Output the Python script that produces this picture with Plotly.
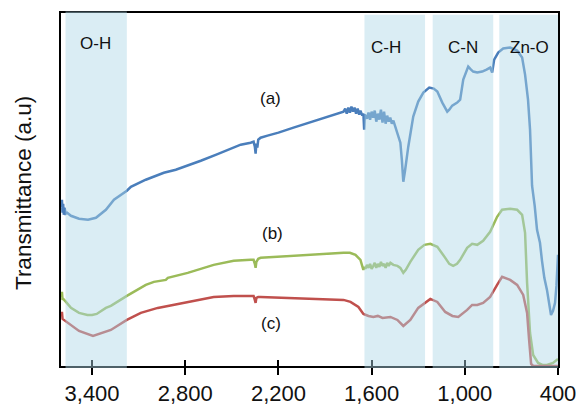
import plotly.graph_objects as go

# ---------------- data ----------------
wn_a = [3598, 3594, 3590, 3586, 3582, 3577, 3570, 3560, 3536, 3484, 3426, 3375, 3311, 3259, 3176,
        3150, 3054, 2938, 2861, 2745, 2700, 2600, 2527, 2443, 2379, 2360, 2352, 2347, 2342, 2336,
        2330, 2315, 2270, 2200, 2103, 2000, 1884, 1830, 1781, 1770, 1760, 1750, 1740, 1730, 1720,
        1710, 1700, 1690, 1680, 1672, 1660, 1653, 1648, 1644, 1630, 1620, 1610, 1600, 1590, 1580,
        1570, 1560, 1550, 1540, 1530, 1520, 1510, 1500, 1490, 1480, 1470, 1460, 1447, 1430, 1415,
        1405, 1396, 1385, 1375, 1364, 1332, 1300, 1267, 1229, 1200, 1177, 1145, 1113, 1100, 1081,
        1049, 1030, 1010, 978, 960, 946, 920, 888, 860, 837, 824, 811, 785, 753, 708,
        663, 631, 612, 593, 580, 567, 550, 535, 516, 503, 488, 471, 458, 445, 432,
        419, 410, 405, 400]
t_a = [158, 166, 153, 162, 151, 158, 152, 153, 150, 147, 146, 148, 156, 166, 175,
       179, 186, 193, 196, 202, 205, 211, 216, 221, 223, 224, 219, 212, 222, 218,
       226, 228, 230, 233, 238, 243, 249, 251, 254, 257, 252, 258, 253, 259, 254,
       258, 252, 257, 251, 255, 250, 252, 236, 251, 247, 253, 246, 254, 248, 255,
       244, 252, 246, 256, 243, 254, 242, 250, 244, 248, 242, 245, 239, 232, 223,
       205, 184, 195, 208, 219, 249, 264, 273, 278, 277, 274, 263, 254, 256, 260,
       263, 266, 286, 299, 296, 294, 293, 294, 296, 298, 293, 306, 313, 317, 318,
       315, 308, 291, 266, 236, 180, 160, 136, 123, 105, 88, 76, 62, 51, 55,
       63, 80, 95, 111]

wn_b = [3598, 3594, 3590, 3586, 3568, 3536, 3484, 3430, 3400, 3370, 3311, 3279, 3176, 3054, 3002,
        2925, 2912, 2861, 2784, 2617, 2488, 2379, 2360, 2352, 2347, 2342, 2330, 2315, 2122, 1910,
        1781, 1740, 1704, 1672, 1660, 1653, 1647, 1640, 1630, 1620, 1610, 1600, 1589, 1580, 1570,
        1560, 1550, 1540, 1530, 1520, 1510, 1500, 1490, 1479, 1460, 1434, 1415, 1396, 1380, 1351,
        1300, 1260, 1222, 1177, 1126, 1100, 1075, 1050, 1030, 985, 953, 920, 882, 837, 792,
        760, 708, 663, 631, 612, 599, 580, 560, 528, 500, 471, 432, 400]
t_b = [68, 74, 66, 67, 64, 58, 53, 51, 51, 52, 58, 60, 70, 81, 84,
       86, 88, 90, 93, 101, 105, 106, 106, 102, 98, 104, 107, 108, 110, 112,
       113, 113, 111, 106, 101, 96, 99, 97, 101, 98, 102, 97, 100, 103, 98,
       102, 99, 104, 100, 102, 98, 103, 100, 103, 101, 100, 98, 93, 96, 104,
       116, 121, 122, 119, 108, 102, 100, 102, 106, 118, 122, 121, 125, 134, 149,
       156, 157, 156, 151, 133, 83, 33, 11, 3, 1, 1, 3, 7]

wn_c = [3598, 3594, 3590, 3555, 3484, 3394, 3279, 3176, 3086, 2977, 2912, 2784, 2617, 2488, 2379,
        2360, 2352, 2347, 2342, 2330, 2315, 2122, 1910, 1781, 1736, 1700, 1685, 1653, 1620, 1589,
        1560, 1530, 1500, 1479, 1434, 1396, 1351, 1300, 1222, 1177, 1126, 1080, 1042, 985, 953,
        920, 882, 837, 792, 760, 708, 663, 624, 612, 599, 586, 573, 560, 516, 400]
t_c = [50, 54, 47, 43, 35, 30, 36, 46, 53, 58, 60, 64, 69, 70, 70,
       70, 66, 63, 68, 69, 69, 68, 67, 66, 64, 61, 59, 52, 50, 49,
       50, 48, 49, 49, 46, 40, 46, 58, 67, 64, 54, 50, 49, 56, 61,
       61, 63, 69, 81, 89, 86, 81, 71, 63, 53, 26, 2, 0, 0, 0]

tick_vals = [3400, 2800, 2200, 1600, 1000, 400]
tick_text = ["3,400", "2,800", "2,200", "1,600", "1,000", "400"]

bands = [("O-H", 3571, 3176, 3375, 0.945, 1.004),
         ("C-H", 1646, 1256, 1505, 0.935, 0.995),
         ("C-N", 1207, 817, 1010, 0.935, 0.995),
         ("Zn-O", 778, 400, 586, 0.935, 0.995)]

series_labels = [("(a)", 2251, 267), ("(b)", 2240, 132), ("(c)", 2251, 42)]

# ---------------- figure ----------------
FONT = "Liberation Sans, Arial, sans-serif"
fig = go.Figure()
for wn, t, col in [(wn_a, t_a, "#4A7EBB"), (wn_b, t_b, "#9BBB59"), (wn_c, t_c, "#C0504D")]:
    fig.add_trace(go.Scatter(x=wn, y=t, mode="lines", line=dict(color=col, width=2.5),
                             showlegend=False, hoverinfo="skip"))

for name, x0, x1, xl, yl, ytop in bands:
    fig.add_shape(type="rect", xref="x", yref="paper", x0=x0, x1=x1, y0=-0.006, y1=ytop,
                  fillcolor="rgba(173,216,230,0.45)", line=dict(width=0), layer="above")
    fig.add_annotation(x=xl, y=yl, xref="x", yref="paper", text=name, showarrow=False,
                       font=dict(family=FONT, size=17, color="#111"))

for txt, xl, yl in series_labels:
    fig.add_annotation(x=xl, y=yl, xref="x", yref="y", text=txt, showarrow=False,
                       font=dict(family=FONT, size=17, color="#111"))

fig.add_annotation(x=0, y=0.49, xref="paper", yref="paper", xshift=-38, text="Transmittance (a.u)",
                   textangle=-90, showarrow=False, xanchor="center", yanchor="middle",
                   font=dict(family=FONT, size=22.5, color="#111"))

fig.update_layout(
    width=579, height=405,
    margin=dict(l=61, r=21, t=13, b=39, autoexpand=False),
    paper_bgcolor="white", plot_bgcolor="white",
    font=dict(family=FONT),
    xaxis=dict(range=[3600, 400], tickvals=tick_vals, ticktext=tick_text, ticks="outside",
               ticklen=7, tickwidth=2, tickcolor="black", showline=True, linecolor="black",
               linewidth=2, mirror=True, showgrid=False, zeroline=False, automargin=False,
               tickfont=dict(family=FONT, size=22, color="#111")),
    xaxis2=dict(range=[3600, 400], overlaying="x", anchor="y", side="bottom", tickvals=tick_vals,
                ticks="inside", ticklen=6, tickwidth=2, tickcolor="black", showticklabels=False,
                showline=False, showgrid=False, zeroline=False, automargin=False),
    yaxis=dict(range=[0, 352.5], showticklabels=False, ticks="", showline=True, linecolor="black",
               linewidth=2, mirror=True, showgrid=False, zeroline=False, automargin=False),
)
fig.add_trace(go.Scatter(x=[], y=[], xaxis="x2", showlegend=False))

fig.write_html("out.html", config={"displayModeBar": False},
               post_script="document.body.style.margin='0';document.body.style.padding='0';")
